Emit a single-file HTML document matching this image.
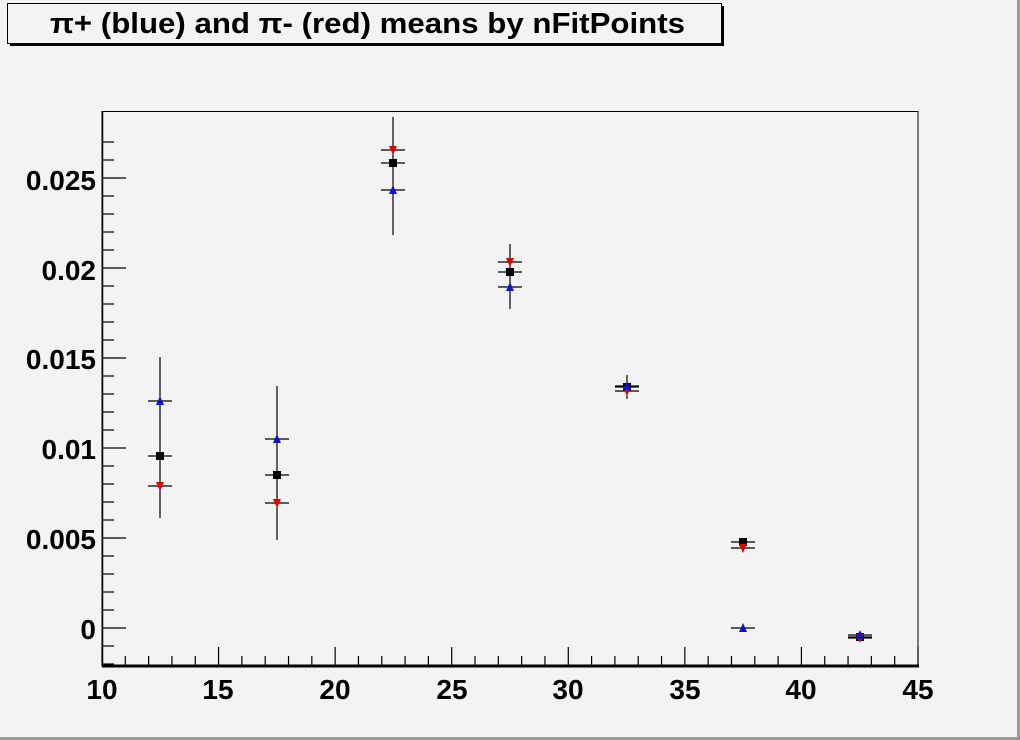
<!DOCTYPE html>
<html><head><style>
html,body{margin:0;padding:0;background:#f3f3f3;}
svg{display:block;}
text{font-family:"Liberation Sans",Arial,sans-serif;font-weight:bold;}
</style></head><body>
<svg width="1020" height="740" viewBox="0 0 1020 740" xmlns="http://www.w3.org/2000/svg">
<rect x="0" y="0" width="1020" height="740" fill="#f3f3f3"/>
<line x1="0" y1="738.5" x2="1020" y2="738.5" stroke="#9a9a9a" stroke-width="3"/>
<line x1="1018.5" y1="0" x2="1018.5" y2="740" stroke="#9a9a9a" stroke-width="3"/>
<!-- title -->
<rect x="10" y="6" width="714" height="40" fill="#000"/>
<rect x="7.5" y="3.5" width="714" height="40" fill="#f3f3f3" stroke="#000" stroke-width="1"/>
<text x="50" y="33" font-size="29" textLength="635" lengthAdjust="spacingAndGlyphs">π+ (blue) and π- (red) means by nFitPoints</text>
<!-- frame -->
<rect x="102" y="111.5" width="816" height="554" fill="none" stroke="#000" stroke-width="1"/>
<line x1="102" y1="666" x2="919" y2="666" stroke="#000" stroke-width="3"/>
<line x1="102.5" y1="111" x2="102.5" y2="667" stroke="#000" stroke-width="1.5"/>
<g stroke="#000" stroke-width="1.2" id="ticks"></g>
<g font-size="28" text-anchor="end">
<text x="96" y="639">0</text>
<text x="96" y="549">0.005</text>
<text x="96" y="459">0.01</text>
<text x="96" y="369">0.015</text>
<text x="96" y="280">0.02</text>
<text x="96" y="190">0.025</text>
</g>
<g font-size="28" text-anchor="middle">
<text x="102" y="699">10</text>
<text x="218" y="699">15</text>
<text x="335" y="699">20</text>
<text x="452" y="699">25</text>
<text x="568" y="699">30</text>
<text x="685" y="699">35</text>
<text x="801" y="699">40</text>
<text x="918" y="699">45</text>
</g>
<g id="data" stroke="#000" stroke-width="1.2"></g>
</svg>
<script>
var ns="http://www.w3.org/2000/svg";
function el(p,t,a){var e=document.createElementNS(ns,t);for(var k in a)e.setAttribute(k,a[k]);p.appendChild(e);return e;}
var tk=document.getElementById("ticks");
for(var i=0;i<=35;i++){var x=102+i*23.314;var maj=(i%5==0);el(tk,"line",{x1:x,y1:665,x2:x,y2:maj?647:656});}
for(var j=-2;j<=27;j++){var y=628-j*18;if(y<112||y>665)continue;var maj=(j%5==0);el(tk,"line",{x1:102,y1:y,x2:maj?126:114,y2:y});}
var d=document.getElementById("data");
var pts=[
[160,456,357,518,486,401],
[277,475,386,540,503,439],
[393,163,117,235,150,190],
[510,272,244,309,262,287],
[627,387,375,399,391,386],
[743,542,538,546,548,628],
[860,637,634,640,638,635]];
pts.forEach(function(p){
var x=p[0];
el(d,"line",{x1:x,y1:p[2],x2:x,y2:p[3]});
[p[1],p[4],p[5]].forEach(function(y){el(d,"line",{x1:x-12,y1:y,x2:x+12,y2:y});});
el(d,"rect",{x:x-4,y:p[1]-4,width:8,height:8,fill:"#000",stroke:"none"});
el(d,"polygon",{points:(x-4)+","+(p[4]-4)+" "+(x+4)+","+(p[4]-4)+" "+x+","+(p[4]+5),fill:"#e00000",stroke:"none"});
el(d,"polygon",{points:(x-4)+","+(p[5]+4)+" "+(x+4)+","+(p[5]+4)+" "+x+","+(p[5]-5),fill:"#1010d0",stroke:"none"});
});
</script>
</body></html>
